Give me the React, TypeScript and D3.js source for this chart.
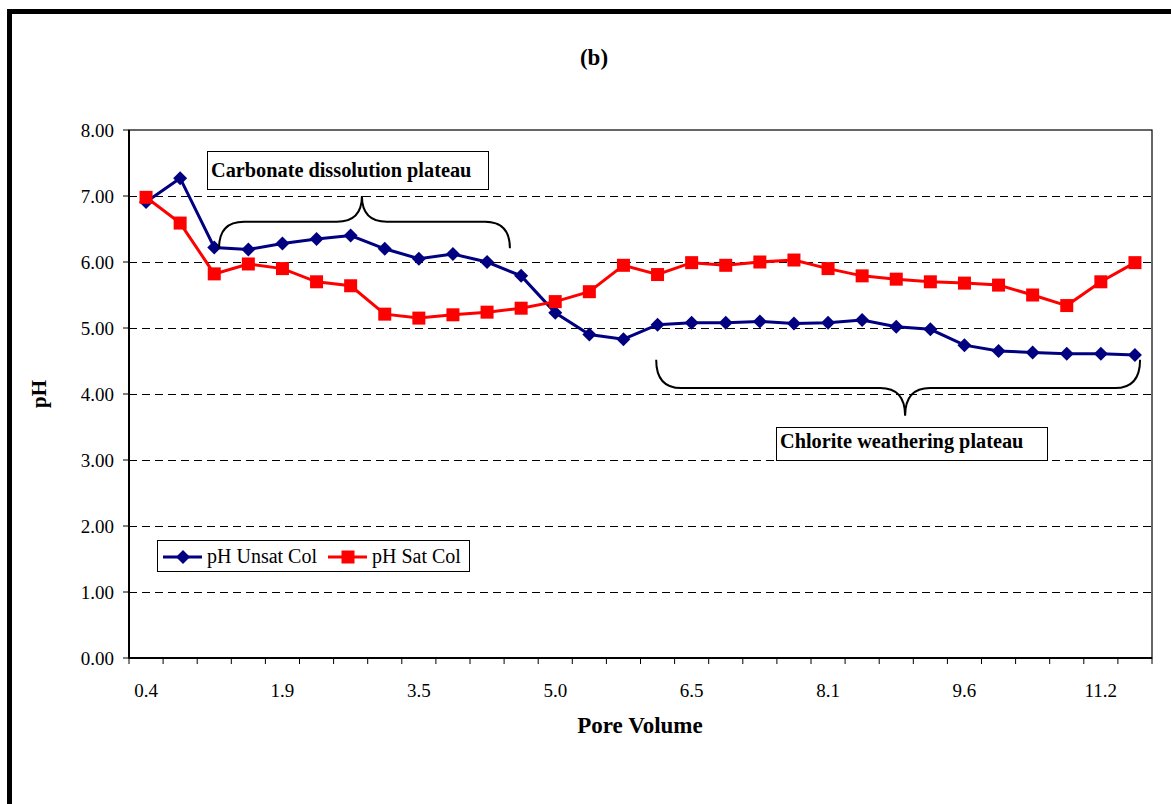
import React from "react";
import * as d3 from "d3";

// Pore volume categories (x axis) and measured pH for the two columns
const poreVolume = [
  "0.4", "0.8", "1.2", "1.6", "1.9", "2.3", "2.7", "3.1", "3.5", "3.9",
  "4.3", "4.7", "5.0", "5.4", "5.8", "6.2", "6.5", "6.9", "7.3", "7.7",
  "8.1", "8.5", "8.9", "9.3", "9.6", "10.0", "10.4", "10.8", "11.2", "11.6",
];
const phUnsat = [
  6.91, 7.27, 6.22, 6.19, 6.28, 6.35, 6.4, 6.2, 6.05, 6.12,
  6.0, 5.79, 5.23, 4.9, 4.83, 5.05, 5.08, 5.08, 5.1, 5.07,
  5.08, 5.12, 5.02, 4.98, 4.74, 4.65, 4.63, 4.61, 4.61, 4.59,
];
const phSat = [
  6.98, 6.59, 5.82, 5.97, 5.9, 5.7, 5.64, 5.21, 5.15, 5.2,
  5.24, 5.3, 5.4, 5.55, 5.95, 5.81, 5.99, 5.95, 6.0, 6.03,
  5.9, 5.79, 5.74, 5.7, 5.68, 5.65, 5.5, 5.34, 5.7, 5.99,
];
const yTicks = [0, 1, 2, 3, 4, 5, 6, 7, 8];
const labelEvery = 4;

const W = 1171;
const H = 804;
const plot = { left: 129, right: 1152, top: 130, bottom: 658 };
const serif = "'Liberation Serif', 'Times New Roman', serif";
const BLUE = "#000080";
const RED = "#ff0000";

export default function App() {
  const x = d3
    .scalePoint<string>()
    .domain(poreVolume)
    .range([plot.left, plot.right])
    .padding(0.5);
  const band = d3
    .scaleBand<string>()
    .domain(poreVolume)
    .range([plot.left, plot.right]);
  const y = d3.scaleLinear().domain([0, 8]).range([plot.bottom, plot.top]);
  // fractional category index -> pixel, for the brace annotations
  const xi = d3
    .scaleLinear()
    .domain([0, poreVolume.length - 1])
    .range([x(poreVolume[0])!, x(poreVolume[poreVolume.length - 1])!]);

  const line = d3
    .line<number>()
    .x((_, i) => x(poreVolume[i])!)
    .y((d) => y(d));

  const diamond = (cx: number, cy: number, r = 7) =>
    `M${cx},${cy - r}L${cx + r},${cy}L${cx},${cy + r}L${cx - r},${cy}Z`;

  // Curly brace: tips at yEnd, bar at yBar, central point at yMid
  const brace = (x0: number, x1: number, xm: number, yEnd: number, yBar: number, yMid: number) => {
    const r = 25;
    return [
      `M${x0},${yEnd}`,
      `Q${x0},${yBar} ${x0 + r},${yBar}`,
      `L${xm - r},${yBar}`,
      `Q${xm},${yBar} ${xm},${yMid}`,
      `Q${xm},${yBar} ${xm + r},${yBar}`,
      `L${x1 - r},${yBar}`,
      `Q${x1},${yBar} ${x1},${yEnd}`,
    ].join(" ");
  };

  const xTickLines = band.domain().map((c) => band(c)!).concat([plot.right]);

  return (
    <svg
      width={W}
      height={H}
      style={{ position: "absolute", left: 0, top: 0, background: "#fff" }}
      fontFamily={serif}
    >
      {/* page frame */}
      <rect x={7} y={9} width={W} height={5} fill="#000" />
      <rect x={7} y={9} width={5} height={H} fill="#000" />

      <text x={594} y={65} textAnchor="middle" fontWeight="bold" fontSize={23}>
        (b)
      </text>

      {/* gridlines */}
      {yTicks
        .filter((t) => t > 0 && t < 8)
        .map((t) => (
          <line
            key={t}
            x1={plot.left}
            x2={plot.right}
            y1={y(t) + 0.5}
            y2={y(t) + 0.5}
            stroke="#000"
            strokeWidth={1}
            strokeDasharray="8,5"
          />
        ))}

      {/* plot border */}
      <rect
        x={plot.left}
        y={plot.top}
        width={plot.right - plot.left}
        height={plot.bottom - plot.top}
        fill="none"
        stroke="#000"
        strokeWidth={1.2}
      />
      <line x1={plot.left} x2={plot.left} y1={plot.top} y2={plot.bottom} stroke="#000" strokeWidth={2} />
      <line x1={plot.left} x2={plot.right} y1={plot.bottom} y2={plot.bottom} stroke="#000" strokeWidth={2} />

      {/* y axis */}
      {yTicks.map((t) => (
        <g key={t}>
          <line x1={plot.left - 6} x2={plot.left} y1={y(t)} y2={y(t)} stroke="#000" strokeWidth={1} />
          <text x={114} y={y(t) + 6.5} textAnchor="end" fontSize={19}>
            {t.toFixed(2)}
          </text>
        </g>
      ))}
      <text
        transform={`translate(46,${(plot.top + plot.bottom) / 2}) rotate(-90)`}
        textAnchor="middle"
        fontWeight="bold"
        fontSize={21}
      >
        pH
      </text>

      {/* x axis */}
      {xTickLines.map((px, i) => (
        <line key={i} x1={px} x2={px} y1={plot.bottom} y2={plot.bottom + 6} stroke="#000" strokeWidth={1} />
      ))}
      {poreVolume.map((c, i) =>
        i % labelEvery === 0 ? (
          <text key={c} x={x(c)!} y={697} textAnchor="middle" fontSize={19}>
            {c}
          </text>
        ) : null
      )}
      <text x={640} y={733} textAnchor="middle" fontWeight="bold" fontSize={23}>
        Pore Volume
      </text>

      {/* series */}
      <path d={line(phUnsat)!} fill="none" stroke={BLUE} strokeWidth={3} />
      <path d={line(phSat)!} fill="none" stroke={RED} strokeWidth={3} />
      {phUnsat.map((v, i) => (
        <path key={"u" + i} d={diamond(x(poreVolume[i])!, y(v))} fill={BLUE} />
      ))}
      {phSat.map((v, i) => (
        <rect key={"s" + i} x={x(poreVolume[i])! - 6.5} y={y(v) - 6.5} width={13} height={13} fill={RED} />
      ))}

      {/* carbonate plateau annotation */}
      <path
        d={brace(xi(2.14), xi(10.67), xi(6.33), y(6.21), y(6.61), y(7.0))}
        fill="none"
        stroke="#000"
        strokeWidth={2}
      />
      <rect x={207.5} y={151.5} width={281} height={38} fill="#fff" stroke="#000" strokeWidth={1} />
      <text x={211} y={177} fontWeight="bold" fontSize={20.3}>
        Carbonate dissolution plateau
      </text>

      {/* chlorite plateau annotation */}
      <path
        d={brace(xi(14.96), xi(29.15), xi(22.26), y(4.52), y(4.09), y(3.67))}
        fill="none"
        stroke="#000"
        strokeWidth={2}
      />
      <rect x={776.5} y={427.5} width={271} height={33} fill="#fff" stroke="#000" strokeWidth={1} />
      <text x={780} y={448} fontWeight="bold" fontSize={20.3}>
        Chlorite weathering plateau
      </text>

      {/* legend */}
      <rect x={157.5} y={540.5} width={312} height={31} fill="#fff" stroke="#000" strokeWidth={1} />
      <line x1={163} x2={202} y1={557} y2={557} stroke={BLUE} strokeWidth={3} />
      <path d={diamond(183, 557)} fill={BLUE} />
      <text x={207} y={563} fontSize={20}>
        pH Unsat Col
      </text>
      <line x1={328} x2={367} y1={557} y2={557} stroke={RED} strokeWidth={3} />
      <rect x={341.5} y={550.5} width={13} height={13} fill={RED} />
      <text x={372} y={563} fontSize={20}>
        pH Sat Col
      </text>
    </svg>
  );
}
